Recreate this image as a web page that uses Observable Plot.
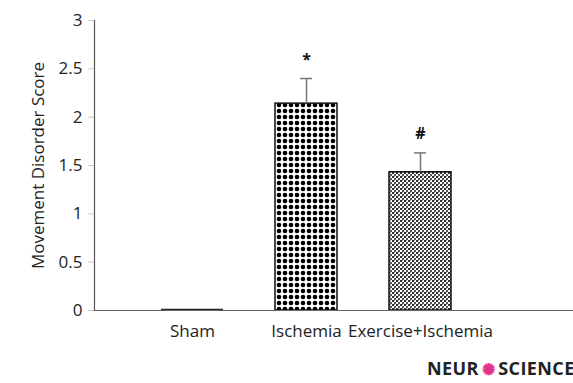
<!DOCTYPE html>
<html>
<head>
<meta charset="utf-8">
<script src="https://cdn.jsdelivr.net/npm/d3@7"></script>
<script src="https://cdn.jsdelivr.net/npm/@observablehq/plot@0.6"></script>
<style>
  html, body { margin: 0; padding: 0; background: #fff; }
  #wrap { position: relative; width: 573px; height: 383px; overflow: hidden; }
  #logo { position: absolute; left: 427px; top: 356px; font-family: "Open Sans", sans-serif; font-weight: 700; font-size: 18px; line-height: 24px; color: #222; white-space: nowrap; letter-spacing: 0.4px; }
  #logo .o { color: #e0338a; font-size: 16px; margin: 0 3px; }
</style>
</head>
<body>
<div id="wrap"><div id="logo">NEUR<span class="o">✺</span>SCIENCE</div></div>
<script>
const groups = ["Sham", "Ischemia", "Exercise+Ischemia"];
const means = [0.01, 2.14, 1.43];
const sems = [0, 0.26, 0.20];
const marks = ["", "*", "#"];
const patterns = ["none", "url(#patDots)", "url(#patFine)"];
const yTicks = [0, 0.5, 1, 1.5, 2, 2.5, 3];

const data = groups.map((g, i) => ({group: g, mean: means[i], sem: sems[i], mark: marks[i], fill: patterns[i]}));
const errData = data.filter(d => d.sem > 0);
const flatData = data.filter(d => d.sem === 0);

const chart = Plot.plot({
  width: 573,
  height: 383,
  marginLeft: 94,
  marginRight: 0,
  marginTop: 20,
  marginBottom: 73,
  style: {fontFamily: "'Open Sans', sans-serif", fontSize: "17px", color: "#222", background: "#fff"},
  x: {domain: groups, range: [108, 504], padding: 0.46, label: null},
  y: {domain: [0, 3], label: null},
  marks: [
    Plot.barY(errData, {x: "group", y: "mean", fill: "fill", stroke: "#111", strokeWidth: 1.5}),
    Plot.tickY(flatData, {x: "group", y: "mean", stroke: "#222", strokeWidth: 1.5}),
    Plot.ruleX(errData, {x: "group", y1: "mean", y2: d => d.mean + d.sem, stroke: "#777", strokeWidth: 1.5}),
    Plot.tickY(errData, {x: "group", y: d => d.mean + d.sem, stroke: "#777", strokeWidth: 1.5, insetLeft: 25, insetRight: 25}),
    Plot.text(errData, {x: "group", y: d => d.mean + d.sem, text: "mark", dy: -19, fontSize: 16, fontWeight: "bold", fill: "#111"}),
    Plot.ruleY([0], {stroke: "#666", strokeWidth: 1.2}),
    Plot.axisY({ticks: yTicks, tickFormat: d => String(d), tickSize: 6, tickPadding: 6, stroke: "#ccc", fontSize: 17, fill: "#222"}),
    Plot.frame({anchor: "left", stroke: "#555", strokeWidth: 1.2}),
    Plot.axisX({tickSize: 0, tickPadding: 14, fontSize: 17, fill: "#222"}),
    Plot.text(["Movement Disorder Score"], {frameAnchor: "left", textAnchor: "middle", rotate: -90, dx: -56, fontSize: 17, fill: "#222"})
  ]
});

// Pattern definitions
const ns = "http://www.w3.org/2000/svg";
const defs = document.createElementNS(ns, "defs");
defs.innerHTML = `
  <pattern id="patDots" patternUnits="userSpaceOnUse" width="6" height="6">
    <rect width="6" height="6" fill="#fff"/>
    <circle cx="3" cy="3" r="2.3" fill="#000"/>
  </pattern>
  <pattern id="patFine" patternUnits="userSpaceOnUse" width="4" height="4">
    <rect width="4" height="4" fill="#fff"/>
    <rect x="0" y="0" width="2" height="2" fill="#333"/>
    <rect x="2" y="2" width="2" height="2" fill="#555"/>
    <rect x="2" y="0" width="1" height="1" fill="#999"/>
  </pattern>`;
chart.insertBefore(defs, chart.firstChild);

document.getElementById("wrap").prepend(chart);
</script>
</body>
</html>
